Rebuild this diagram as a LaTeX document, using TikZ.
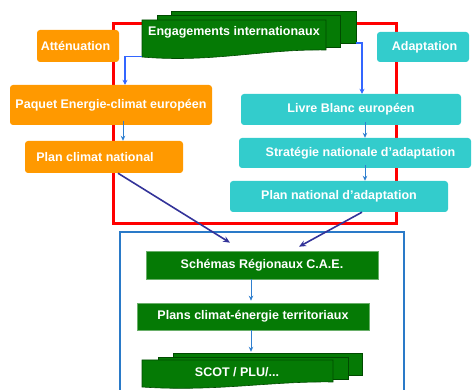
\documentclass[tikz,border=0pt]{standalone}
\usepackage{fontspec}
\setmainfont{Liberation Sans}
\usetikzlibrary{arrows.meta}
\definecolor{orng}{HTML}{FF9900}
\definecolor{teal2}{HTML}{33CCCC}
\definecolor{grn}{HTML}{057A05}
\definecolor{grnd}{HTML}{004A00}
\definecolor{frameblue}{HTML}{2A7AC8}
\definecolor{conblue}{HTML}{3366FF}
\definecolor{smallblue}{HTML}{2F7FCF}
\definecolor{indigo2}{HTML}{333399}
\tikzset{
  txt/.style={inner sep=0pt, text=white, font=\fontsize{12.5}{14}\selectfont\bfseries},
  obox/.style={txt, fill=orng, rounded corners=3pt},
  tbox/.style={txt, fill=teal2, rounded corners=3pt},
  gbox/.style={txt, fill=grn, draw=grn!60!white, line width=0.6pt},
  doclayer/.style={fill=grn, draw=grnd, line width=0.6pt},
  engarrow/.style={draw=conblue, line width=1.5pt, -{Stealth[length=5pt,width=5pt]}},
  smallarrow/.style={draw=smallblue, line width=1pt, -{Stealth[length=5pt,width=4.5pt]}},
  bigarrow/.style={draw=indigo2, line width=1.6pt, -{Stealth[length=7pt,width=6pt]}}
}
\begin{document}
\begin{tikzpicture}[x=1pt,y=-1pt]
\useasboundingbox (0,0) rectangle (472,390);
\clip (0,0) rectangle (472,390);
% frames
\draw[red, line width=3pt] (113,24) rectangle (396,224);
\draw[frameblue, line width=2.2pt] (120,232) rectangle (404,400);

% Engagements internationaux (multi-document)
\path[doclayer] (171,11) -- (356,11) -- (356,43) -- (171,43) -- cycle;
\path[doclayer] (157,15) -- (340,15) -- (340,47) -- (157,47) -- cycle;
\path[doclayer] (142,20) -- (326,20) -- (326,50) .. controls (262,49) and (212,63) .. (142,57) -- cycle;
\node[inner sep=0pt, minimum width=185pt, minimum height=32pt] (engb) at (263.5,27) {};
\node[txt, minimum width=184pt, minimum height=36pt, anchor=north west] (eng) at (142,20) {};
\node[txt] at (234,32) {Engagements internationaux};

% SCOT / PLU (multi-document)
\path[doclayer] (173,353) -- (362,353) -- (362,375) -- (173,375) -- cycle;
\path[doclayer] (158,357) -- (348,357) -- (348,379) -- (158,379) -- cycle;
\path[doclayer] (142,360) -- (333,360) -- (333,382) .. controls (270,381) and (215,392) .. (142,387) -- cycle;
\node[inner sep=0pt, minimum width=189pt, minimum height=22pt] (scotb) at (267.5,364) {};
\node[txt] (scot) at (237,372) {SCOT / PLU/...};

% left column
\node[obox, minimum width=82pt, minimum height=32pt] (att) at (78,46) {Att\'enuation\hspace*{5pt}};
\node[obox, minimum width=202pt, minimum height=40pt] (paq) at (111,105) {Paquet Energie-climat europ\'een};
\node[obox, minimum width=158pt, minimum height=32pt] (pcn) at (104,157) {Plan climat national\hspace*{18pt}};

% right column
\node[tbox, minimum width=92pt, minimum height=30pt] (ada) at (423,47) {\hspace*{3pt}Adaptation};
\node[tbox, minimum width=220pt, minimum height=31pt] (livre) at (351,109.5) {Livre Blanc europ\'een};
\node[tbox, minimum width=232pt, minimum height=30pt] (strat) at (355,153) {\hspace*{11pt}Strat\'egie nationale d’adaptation};
\node[tbox, minimum width=218pt, minimum height=31pt] (pna) at (339,196.5) {Plan national d’adaptation};

% bottom green boxes
\node[gbox, minimum width=232pt, minimum height=28pt] (sch) at (262,265) {Sch\'emas R\'egionaux C.A.E.};
\node[gbox, minimum width=232pt, minimum height=27pt] (pce) at (253,316.5) {Plans climat-\'energie territoriaux};

% connectors
\draw[engarrow] (eng.south west) -| ([xshift=14pt]paq.north);
\draw[engarrow] (engb.south east) -| ([xshift=11pt]livre.north);
\draw[smallarrow] ([xshift=12pt,yshift=4pt]paq.south) -- ([xshift=19pt]pcn.north);
\draw[smallarrow] ([xshift=14pt,yshift=3pt]livre.south) -- ([xshift=10pt]strat.north);
\draw[smallarrow] ([xshift=10pt,yshift=3pt]strat.south) -- ([xshift=26pt]pna.north);
\draw[bigarrow] ([xshift=14pt]pcn.south) -- ([xshift=-32pt,yshift=8pt]sch.north);
\draw[bigarrow] ([xshift=23pt]pna.south) -- ([xshift=37pt,yshift=4pt]sch.north);
\draw[smallarrow] ([xshift=-11pt]sch.south) -- ([xshift=-2pt,yshift=2pt]pce.north);
\draw[smallarrow] ([xshift=-2pt]pce.south) -- ([xshift=-16.5pt,yshift=1pt]scotb.north);
\end{tikzpicture}
\end{document}
